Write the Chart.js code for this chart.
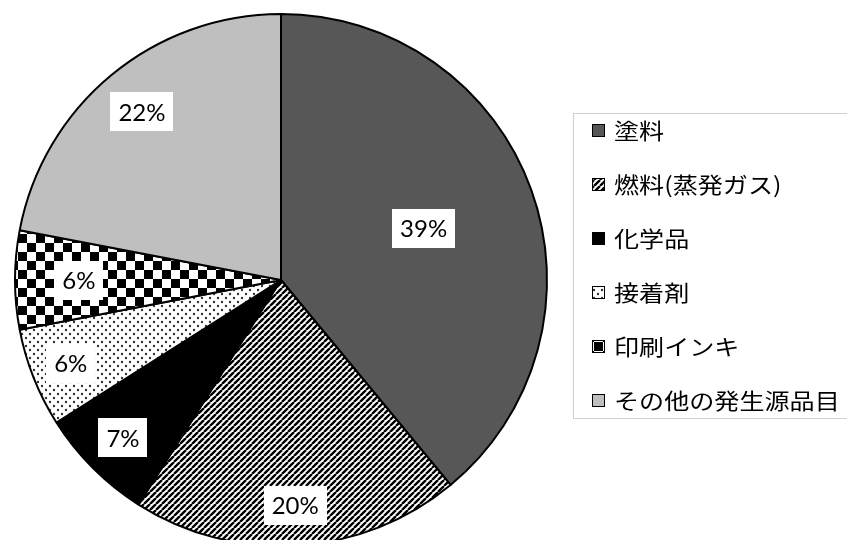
<!DOCTYPE html>
<html>
<head>
<meta charset="utf-8">
<script src="https://cdn.jsdelivr.net/npm/chart.js@4.4.0/dist/chart.umd.min.js"></script>
<style>
  html, body { margin: 0; padding: 0; background: #fff; overflow: hidden; width: 847px; height: 540px; }
  canvas { display: block; }
</style>
</head>
<body>
<canvas id="c" width="847" height="560"></canvas>
<script>
// VOC emission sources, share of total (%)
const categories = ['塗料', '燃料(蒸発ガス)', '化学品', '接着剤', '印刷インキ', 'その他の発生源品目'];
const shares = [39, 20, 7, 6, 6, 22];
const valueLabels = ['39%', '20%', '7%', '6%', '6%', '22%'];

// --- fill patterns -------------------------------------------------------
function tile(size, paint) {
  const c = document.createElement('canvas');
  c.width = c.height = size;
  const g = c.getContext('2d');
  g.fillStyle = '#fff';
  g.fillRect(0, 0, size, size);
  paint(g, size);
  return g.createPattern(c, 'repeat');
}

const stripes = tile(6, (g, s) => {
  g.strokeStyle = '#000';
  g.lineWidth = 2.4;
  g.beginPath();
  for (let k = -1; k <= 1; k++) {
    g.moveTo(k * s, s);
    g.lineTo(k * s + s, 0);
  }
  g.stroke();
});

const dots = tile(8, (g) => {
  g.fillStyle = '#333';
  [[2, 2], [6, 6]].forEach(([x, y]) => {
    g.beginPath();
    g.arc(x, y, 1.2, 0, Math.PI * 2);
    g.fill();
  });
});

const checker = tile(18, (g) => {
  g.fillStyle = '#000';
  g.fillRect(0, 0, 9, 9);
  g.fillRect(9, 9, 9, 9);
});

const fills = ['#575757', stripes, '#000000', dots, checker, '#bfbfbf'];

// label distance from centre, as a fraction of the radius
const labelRadius = [0.57, 0.85, 0.84, 0.85, 0.76, 0.82];

const valueLabelPlugin = {
  id: 'valueLabels',
  afterDatasetsDraw(chart) {
    const { ctx } = chart;
    const arcs = chart.getDatasetMeta(0).data;
    ctx.save();
    ctx.font = '24px Lato, "Open Sans", sans-serif';
    ctx.textAlign = 'center';
    ctx.textBaseline = 'middle';
    arcs.forEach((arc, i) => {
      const p = arc.getProps(['x', 'y', 'startAngle', 'endAngle', 'outerRadius'], true);
      const mid = (p.startAngle + p.endAngle) / 2;
      const r = p.outerRadius * labelRadius[i];
      const cx = p.x + Math.cos(mid) * r;
      const cy = p.y + Math.sin(mid) * r;
      const text = valueLabels[i];
      const w = ctx.measureText(text).width + 16;
      const h = 39;
      ctx.fillStyle = '#fff';
      ctx.fillRect(Math.round(cx - w / 2), Math.round(cy - h / 2), Math.round(w), h);
      ctx.fillStyle = '#000';
      ctx.fillText(text, cx, cy + 1);
    });
    ctx.restore();
  }
};

const legendBoxPlugin = {
  id: 'legendBox',
  afterDraw(chart) {
    const { ctx } = chart;
    const ds = chart.data.datasets[0];
    ctx.save();
    ctx.strokeStyle = '#d0d0d0';
    ctx.lineWidth = 1;
    ctx.strokeRect(573.5, 113.5, 300, 305);
    ctx.font = '22px "Noto Sans CJK JP", sans-serif';
    ctx.textBaseline = 'middle';
    ctx.textAlign = 'left';
    chart.data.labels.forEach((label, i) => {
      const y = 131 + i * 54;
      ctx.fillStyle = ds.backgroundColor[i];
      ctx.fillRect(592, y - 7, 13, 13);
      ctx.strokeStyle = '#000';
      ctx.strokeRect(592.5, y - 6.5, 12, 12);
      ctx.fillStyle = '#000';
      // the legend face is set slightly wide
      ctx.save();
      ctx.translate(614, y);
      ctx.scale(1.14, 1);
      ctx.fillText(label, 0, 0);
      ctx.restore();
    });
    ctx.restore();
  }
};

new Chart(document.getElementById('c').getContext('2d'), {
  type: 'pie',
  data: {
    labels: categories,
    datasets: [{
      data: shares,
      backgroundColor: fills,
      borderColor: '#000',
      borderWidth: 2
    }]
  },
  options: {
    responsive: false,
    animation: false,
    events: [],
    layout: { padding: { left: 14, top: 13, right: 299, bottom: 13 } },
    plugins: {
      legend: { display: false },
      tooltip: { enabled: false }
    }
  },
  plugins: [valueLabelPlugin, legendBoxPlugin]
});
</script>
</body>
</html>
